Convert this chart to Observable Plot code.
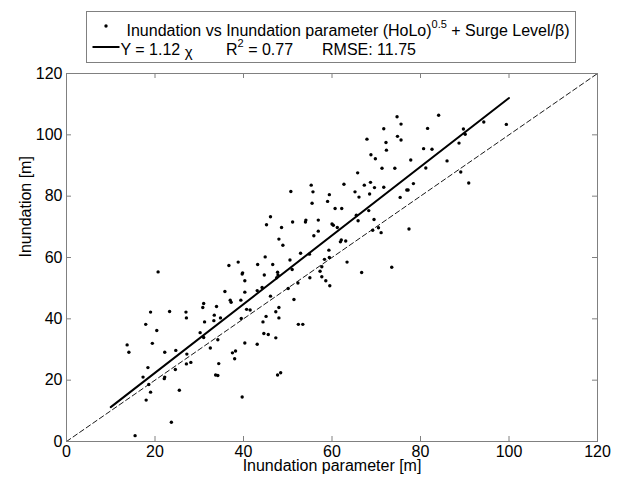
<!DOCTYPE html>
<html><head><meta charset="utf-8">
<script src="https://cdn.jsdelivr.net/npm/d3@7"></script>
<script src="https://cdn.jsdelivr.net/npm/@observablehq/plot@0.6"></script>
<style>
html,body{margin:0;padding:0;background:#fff;}
#chart{position:relative;width:617px;height:482px;}
</style></head><body><div id="chart"></div>
<script>
// Inundation parameter (HoLo)^0.5 + Surge Level/beta  [m]
const inundationParam = [
 20.7,13.7,14.1,19.0,23.3,27.0,27.1,31.0,30.8,17.9,20.4,19.4,22.2,24.7,27.2,28.1,27.1,30.2,31.2,31.0,18.4,17.3,22.2,22.1,24.6,18.6,19.0,18.0,25.5,23.7,15.5,
 46.1,45.2,48.0,38.8,36.7,43.2,44.9,46.6,39.8,39.7,40.3,44.7,35.8,37.0,37.2,40.3,43.1,44.2,39.4,33.9,40.7,41.5,46.1,33.4,33.3,34.8,39.5,45.1,48.0,47.3,48.0,44.4,44.6,45.6,47.3,34.2,32.5,40.3,43.1,38.2,37.5,38.0,34.4,33.7,34.2,47.7,39.7,
 55.3,55.7,62.7,65.2,50.7,59.4,59.0,55.5,60.7,62.2,51.1,54.1,54.0,56.9,48.6,60.0,60.3,61.2,56.9,55.9,48.9,62.1,61.9,63.1,52.9,54.9,59.3,50.5,51.0,47.7,47.8,47.5,58.3,59.4,57.7,57.3,57.7,58.6,59.5,55.0,63.4,52.3,50.1,51.4,52.4,53.4,48.4,
 74.7,75.6,81.6,71.7,67.9,74.8,75.6,72.2,72.3,80.7,68.8,69.8,77.8,71.3,74.2,81.2,65.8,67.3,68.7,69.6,71.7,66.1,68.5,78.4,76.9,77.2,75.4,68.3,65.5,65.9,69.5,69.2,70.5,71.1,77.4,66.7,73.5,
 84.1,94.3,99.4,89.7,90.1,88.7,82.6,86.0,89.1,90.9
];
// Inundation [m]
const inundation = [
 55.3,31.5,29.1,42.2,42.4,42.2,40.3,45.0,43.7,38.2,36.2,32.0,29.1,29.7,28.5,25.8,25.3,35.5,39.0,33.9,24.1,21.0,21.0,20.5,23.5,18.6,16.1,13.5,16.7,6.3,1.9,
 73.3,70.7,66.0,58.5,57.4,57.7,60.2,57.7,55.0,54.6,52.4,54.3,48.9,46.1,45.4,48.7,49.2,50.2,46.1,44.0,43.1,42.9,47.4,41.2,39.4,40.3,40.1,40.8,43.7,42.3,40.3,39.0,35.2,34.9,33.8,33.2,30.5,32.1,31.7,29.5,28.9,27.0,25.4,21.7,21.5,21.7,14.5,
 83.6,81.4,83.9,81.4,81.5,80.5,78.3,77.7,76.0,76.0,71.6,72.2,71.6,72.2,69.8,70.9,70.5,69.8,68.6,67.1,64.0,65.7,65.1,65.4,61.4,61.1,62.4,59.2,56.1,55.2,54.3,53.4,59.4,60.0,57.0,55.5,53.7,52.4,50.8,53.4,58.5,51.7,49.9,46.3,38.2,38.2,22.4,
 105.9,103.5,102.1,102.0,98.6,99.5,98.3,97.5,95.0,95.5,93.5,92.2,91.8,89.1,89.1,89.2,87.6,83.6,84.5,82.8,82.9,79.7,80.7,84.1,82.0,82.0,79.6,75.3,73.8,72.0,72.4,68.9,69.7,68.1,69.3,55.1,56.8,
 106.4,104.2,103.4,101.9,100.2,97.3,95.3,91.5,87.9,84.3
];
const fitSlope = 1.12;          // Y = 1.12 x
const fitRange = [10, 100];     // extent of fitted line
const identityRange = [0, 120]; // 1:1 dashed line
const xTicks = [0, 20, 40, 60, 80, 100, 120];
const yTicks = [0, 20, 40, 60, 80, 100, 120];
const innerTicks = [20, 40, 60, 80, 100];
const xLabel = "Inundation parameter [m]";
const yLabel = "Inundation [m]";
const legendScatter = ["Inundation vs Inundation parameter (HoLo)", "0.5", " + Surge Level/β)"];
const legendFit = ["Y = 1.12 ", "χ"];
const legendR2 = ["R", "2", " = 0.77"];
const legendRmse = "RMSE: 11.75";

const points = inundationParam.map((x, i) => ({x, y: inundation[i]}));
const fitLine = fitRange.map(x => ({x, y: fitSlope * x}));
const idLine = identityRange.map(v => ({x: v, y: v}));

const W = 617, H = 482, mL = 66, mR = 20, mT = 73, mB = 41;
const grey = "#808080";
const tickPx = 5;
const tx = 120 * tickPx / (W - mL - mR), ty = 120 * tickPx / (H - mT - mB);
const font = "'Liberation Sans', Arial, sans-serif";

const plot = Plot.plot({
  width: W, height: H, marginLeft: mL, marginRight: mR, marginTop: mT, marginBottom: mB,
  style: {fontFamily: font, fontSize: "16px", color: "#000", background: "#fff", overflow: "visible"},
  x: {domain: [0, 120]},
  y: {domain: [0, 120]},
  marks: [
    Plot.ruleX(innerTicks, {x: d => d, y1: 0, y2: ty, stroke: grey}),
    Plot.ruleX(innerTicks, {x: d => d, y1: 120 - ty, y2: 120, stroke: grey}),
    Plot.ruleY(innerTicks, {y: d => d, x1: 0, x2: tx, stroke: grey}),
    Plot.ruleY(innerTicks, {y: d => d, x1: 120 - tx, x2: 120, stroke: grey}),
    Plot.axisX(xTicks, {tickSize: 0, tickPadding: 4, label: null, fill: "#000"}),
    Plot.axisY(yTicks, {tickSize: 0, tickPadding: 4, label: null, fill: "#000"}),
    Plot.line(idLine, {x: "x", y: "y", stroke: "#000", strokeWidth: 0.9, strokeDasharray: "5,3"}),
    Plot.line(fitLine, {x: "x", y: "y", stroke: "#000", strokeWidth: 2}),
    Plot.dot(points, {x: "x", y: "y", r: 1.7, fill: "#000", stroke: null}),
    Plot.frame({stroke: grey}),
    Plot.text([xLabel], {frameAnchor: "bottom", dy: 29, text: d => d, fill: "#000"}),
    Plot.text([yLabel], {frameAnchor: "left", dx: -41, rotate: -90, text: d => d, fill: "#000"})
  ]
});
document.getElementById("chart").appendChild(plot);

// Legend box
const svg = d3.select(plot);
const lg = svg.append("g").attr("font-family", font).attr("font-size", 16)
  .attr("fill", "#000").attr("text-anchor", "start");
lg.append("rect").attr("x", 86.5).attr("y", 11.5).attr("width", 489).attr("height", 51)
  .attr("fill", "#fff").attr("stroke", grey);
lg.append("circle").attr("cx", 106).attr("cy", 26).attr("r", 1.7).attr("fill", "#000");
const t1 = lg.append("text").attr("x", 126.5).attr("y", 36);
t1.append("tspan").text(legendScatter[0]);
t1.append("tspan").attr("font-size", 11).attr("dy", -8).text(legendScatter[1]);
t1.append("tspan").attr("dy", 8).text(legendScatter[2]);
lg.append("line").attr("x1", 92.5).attr("x2", 119.5).attr("y1", 47).attr("y2", 47)
  .attr("stroke", "#000").attr("stroke-width", 2);
const t2 = lg.append("text").attr("x", 120.5).attr("y", 55);
t2.append("tspan").text(legendFit[0]);
t2.append("tspan").attr("font-size", 15).attr("dy", 2).text(legendFit[1]);
const t3 = lg.append("text").attr("x", 226).attr("y", 55);
t3.append("tspan").text(legendR2[0]);
t3.append("tspan").attr("font-size", 11).attr("dy", -8).text(legendR2[1]);
t3.append("tspan").attr("dy", 8).text(legendR2[2]);
lg.append("text").attr("x", 322).attr("y", 55).text(legendRmse);
</script>
</body></html>
